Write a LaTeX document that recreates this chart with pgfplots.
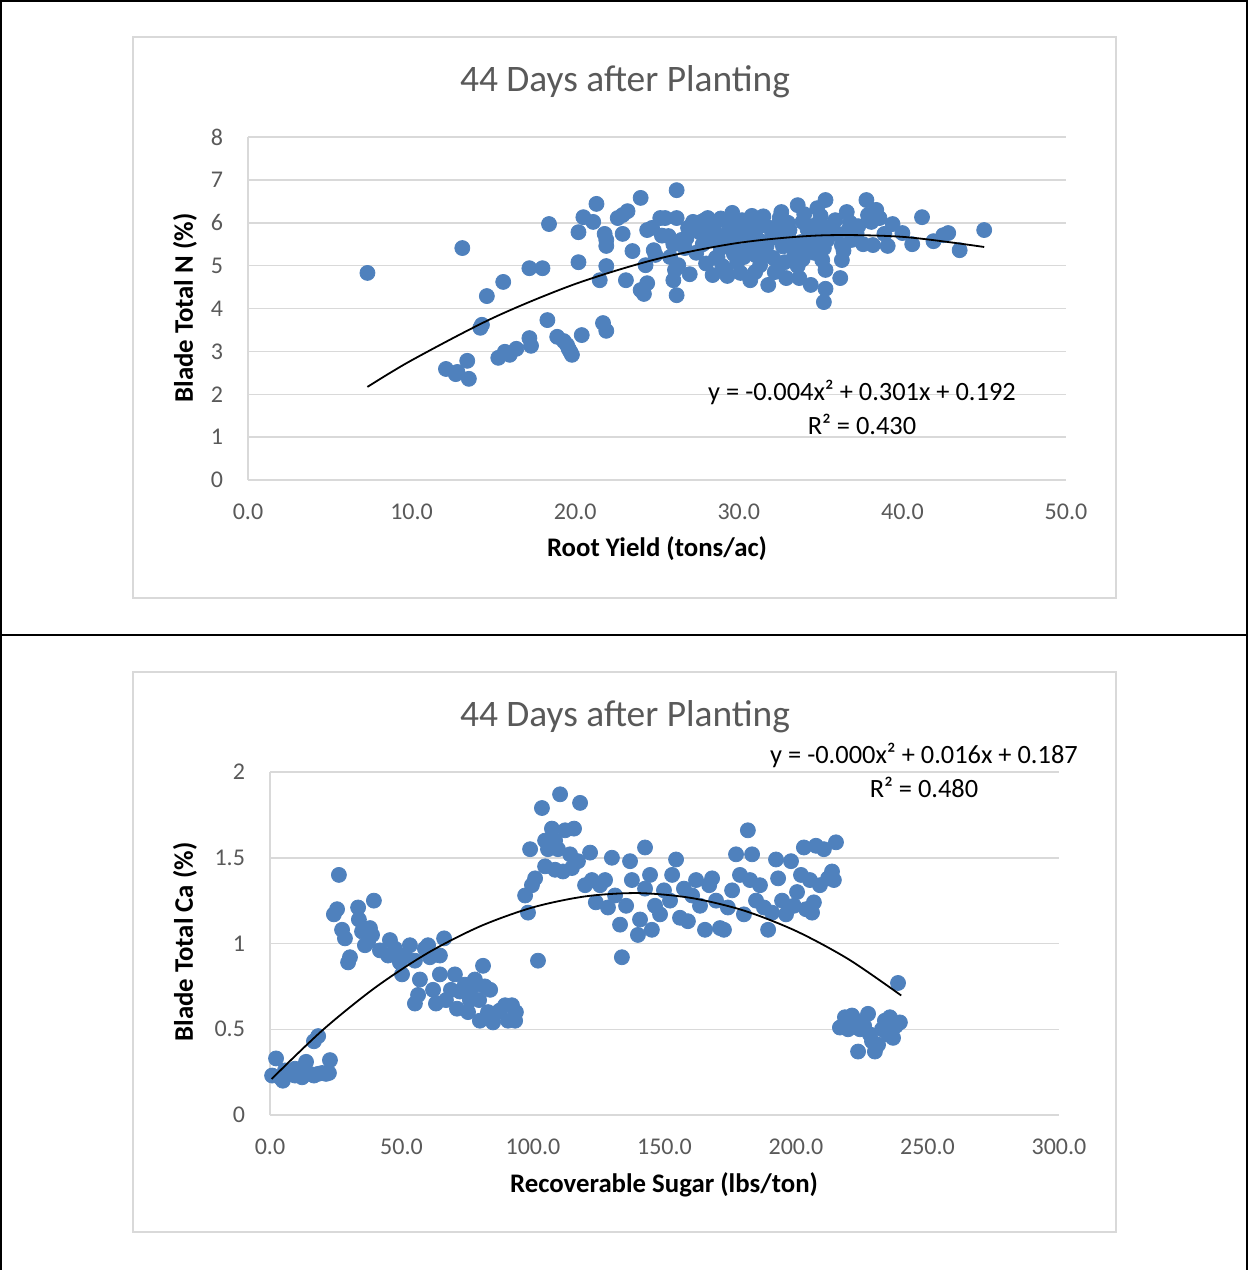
\documentclass[border=0pt]{standalone}
\usepackage{fontspec}
\setmainfont{Carlito}
\usepackage{pgfplots}
\pgfplotsset{compat=1.18}
\definecolor{ptblue}{HTML}{4F81BD}
\definecolor{tickgrey}{HTML}{595959}
\definecolor{gridgrey}{HTML}{D9D9D9}
\pgfplotsset{excel/.style={
  scale only axis,
  set layers,
  axis x line*=bottom, axis y line*=left,
  axis line style={gridgrey, line width=0.75pt},
  ymajorgrids, grid style={gridgrey, line width=0.75pt},
  major tick length=0pt,
  tick label style={font=\fontsize{12}{14}\selectfont, text=tickgrey},
  /pgf/number format/assume math mode=true,
  xticklabel style={yshift=-8.5pt},
  yticklabel style={xshift=-9pt},
  xticklabel={\pgfmathprintnumber[fixed,fixed zerofill,precision=1]{\tick}},
  clip=false,
}}
\begin{document}
\begin{tikzpicture}
\begin{scope}[x=0.5pt,y=-0.5pt]
\path[use as bounding box] (0,0) rectangle (1249,1270);
% outer frames
\draw[black, line width=1pt] (1,1270) -- (1,1) -- (1247,1) -- (1247,1270);
\draw[black, line width=1pt] (1,635) -- (1247,635);
% chart areas
\draw[gridgrey, line width=0.75pt] (133,37) rectangle (1116,598);
\draw[gridgrey, line width=0.75pt] (133,672) rectangle (1116,1232);
\end{scope}

% ---------------- top chart ----------------
\begin{axis}[excel,
  at={(124pt,-240pt)}, anchor=south west,
  width=409pt, height=171.5pt,
  xmin=0, xmax=50, ymin=0, ymax=8,
  xtick={0,10,20,30,40,50}, ytick={0,1,2,3,4,5,6,7,8},
]
\addplot[only marks, color=ptblue, mark=*, mark size=3.75pt, mark options={draw=ptblue, fill=ptblue}] table {
x y
7.3 4.83
13.1 5.41
12.1 2.59
12.8 2.52
13.4 2.78
13.5 2.36
12.7 2.47
14.3 3.62
14.2 3.55
14.6 4.29
15.6 4.62
15.3 2.85
15.7 2.99
16.0 2.92
16.4 3.06
17.2 3.31
17.3 3.13
17.2 4.94
18.0 4.94
18.3 3.73
18.4 5.97
18.9 3.34
19.3 3.24
19.5 3.15
19.7 2.99
19.8 2.92
19.6 3.06
20.4 3.38
20.2 5.08
20.2 5.78
20.5 6.13
21.1 6.02
21.3 6.44
21.5 4.66
21.7 3.66
21.9 3.48
21.9 4.99
21.8 5.74
21.9 5.60
21.9 5.46
22.6 6.11
22.9 6.18
23.2 6.27
22.9 5.74
23.1 4.66
23.5 5.34
24.0 6.58
24.0 4.43
24.2 4.34
24.3 5.01
24.4 4.59
24.4 5.83
24.8 5.36
24.7 5.88
25.2 6.11
25.5 6.11
25.7 5.69
25.8 5.20
26.2 6.76
26.2 6.11
26.0 4.66
26.1 4.90
26.2 4.31
26.3 5.01
26.7 5.41
26.8 5.64
27.0 4.80
26.9 5.88
27.2 6.02
27.6 5.78
27.9 6.06
28.1 6.11
28.2 5.60
28.4 4.78
28.5 5.95
28.6 5.18
28.9 5.41
29.0 4.99
29.2 6.06
29.3 4.76
29.5 5.60
29.6 6.23
29.7 5.27
29.9 5.08
30.0 5.71
30.1 4.83
30.2 6.06
30.4 5.88
30.6 5.41
30.7 4.66
30.8 6.16
31.0 5.25
31.2 5.60
31.3 5.01
31.4 6.02
31.7 5.46
31.8 4.55
31.9 5.88
32.1 5.18
32.2 4.85
32.4 5.64
32.5 6.11
32.6 6.25
32.8 5.08
32.9 4.71
33.1 5.83
33.3 5.46
33.6 6.41
33.6 4.99
33.7 4.71
33.9 6.02
34.1 5.36
34.4 4.55
34.5 5.60
34.7 5.95
34.8 6.34
35.0 6.16
35.1 5.13
35.2 5.41
35.3 4.90
35.3 6.53
35.3 4.46
35.2 4.15
35.4 5.60
35.6 5.78
35.9 6.06
36.2 4.71
36.3 5.13
36.3 5.48
36.6 6.25
36.7 5.83
36.9 5.60
37.3 5.92
37.6 5.50
37.8 6.53
37.9 6.18
38.1 6.02
38.2 5.48
38.4 6.30
38.6 6.11
38.9 5.74
39.1 5.46
39.4 5.97
40.0 5.76
40.6 5.50
41.2 6.13
41.9 5.57
42.5 5.71
42.8 5.76
43.5 5.36
45.0 5.83
26.5 5.60
27.0 5.90
27.4 5.30
27.8 5.50
28.3 5.80
28.7 5.20
29.0 5.70
29.4 5.95
29.8 5.40
30.3 5.20
30.5 5.75
30.9 5.50
31.2 5.90
31.6 5.30
32.0 5.65
32.3 5.90
32.7 5.45
33.0 5.70
33.4 5.25
33.8 5.55
34.2 5.85
34.6 5.30
35.0 5.70
35.5 5.90
36.0 5.75
36.4 5.35
36.8 6.00
37.2 5.75
27.7 6.02
28.9 6.10
30.0 5.90
31.5 6.15
33.0 6.00
34.0 6.20
26.0 5.50
25.3 5.70
24.9 5.25
29.2 4.90
31.0 4.85
33.9 5.15
32.4 4.95
28.0 5.05
};
\addplot[black, line width=0.9pt, smooth, on layer=axis foreground] coordinates {
(7.3,2.171) (10,2.792) (15,3.785) (20,4.572) (25,5.155) (30,5.532) (35,5.705) (40,5.672) (45,5.435)
};
\end{axis}

% ---------------- bottom chart ----------------
\begin{axis}[excel,
  at={(135pt,-557.5pt)}, anchor=south west,
  width=394.5pt, height=171.5pt,
  xmin=0, xmax=300, ymin=0, ymax=2,
  xtick={0,50,100,150,200,250,300}, ytick={0,0.5,1,1.5,2},
]
\addplot[only marks, color=ptblue, mark=*, mark size=3.75pt, mark options={draw=ptblue, fill=ptblue}] table {
x y
0.8 0.23
2.3 0.33
3.8 0.22
4.9 0.20
5.7 0.26
7.6 0.24
9.5 0.23
9.5 0.27
11.4 0.24
12.2 0.22
13.7 0.31
15.2 0.24
16.7 0.23
18.3 0.24
19.8 0.245
21.3 0.24
22.8 0.32
22.4 0.245
16.7 0.43
18.3 0.46
26.2 1.40
24.3 1.17
25.5 1.20
27.4 1.08
28.5 1.03
29.7 0.89
30.4 0.92
33.5 1.21
33.8 1.14
35.0 1.07
37.3 1.01
38.0 1.09
39.5 1.25
38.8 1.05
36.1 0.99
41.8 0.96
44.9 0.93
45.6 1.02
47.5 0.97
49.4 0.89
50.2 0.82
51.3 0.93
53.2 0.99
55.1 0.90
56.3 0.70
55.1 0.65
57.0 0.79
58.9 0.97
60.1 0.99
60.8 0.92
62.0 0.73
63.1 0.65
64.6 0.82
66.2 1.03
64.6 0.93
66.9 0.67
68.8 0.73
70.3 0.82
71.1 0.62
72.2 0.72
74.1 0.76
75.3 0.60
76.8 0.74
77.9 0.79
79.5 0.67
81.0 0.87
81.7 0.75
82.9 0.60
84.8 0.54
86.7 0.60
87.5 0.61
89.4 0.64
90.5 0.55
93.2 0.55
93.5 0.60
92.0 0.64
79.8 0.55
83.7 0.73
76.0 0.67
98.9 1.55
97.0 1.28
98.1 1.18
99.6 1.34
100.8 1.38
101.9 0.90
103.4 1.79
104.6 1.60
105.7 1.55
107.2 1.67
108.4 1.60
110.3 1.87
109.5 1.55
112.2 1.66
114.1 1.52
115.6 1.67
117.9 1.82
114.8 1.44
117.1 1.48
119.8 1.34
121.7 1.53
122.4 1.37
123.9 1.24
125.5 1.34
127.4 1.37
128.5 1.21
130.0 1.50
131.2 1.28
133.1 1.11
133.8 0.92
135.4 1.22
136.9 1.48
137.6 1.37
139.9 1.05
140.7 1.14
142.6 1.56
142.6 1.32
144.5 1.40
145.2 1.08
146.4 1.22
148.3 1.17
149.8 1.31
152.1 1.25
152.9 1.40
154.4 1.49
155.9 1.15
157.4 1.32
158.9 1.13
160.5 1.28
162.0 1.37
163.5 1.22
165.4 1.08
167.0 1.34
168.1 1.38
169.6 1.25
171.1 1.09
172.6 1.08
174.1 1.21
175.7 1.31
177.2 1.52
178.7 1.40
180.2 1.17
181.7 1.66
182.5 1.37
183.3 1.52
184.8 1.25
186.3 1.34
187.8 1.21
189.4 1.08
190.9 1.18
192.4 1.49
193.2 1.38
194.7 1.25
196.2 1.17
198.1 1.48
199.2 1.22
200.4 1.30
201.9 1.40
203.0 1.56
203.8 1.20
205.3 1.37
206.8 1.24
207.6 1.57
209.1 1.34
210.6 1.55
212.2 1.38
213.7 1.42
215.2 1.59
214.4 1.37
206.1 1.18
108.4 1.43
111.4 1.42
104.6 1.45
216.7 0.51
218.6 0.57
221.3 0.58
222.8 0.55
223.6 0.37
224.3 0.50
225.9 0.52
227.4 0.59
228.1 0.47
228.9 0.43
230.0 0.37
231.2 0.41
232.7 0.50
233.8 0.55
235.0 0.47
235.7 0.57
236.9 0.45
238.0 0.52
238.8 0.77
239.5 0.54
219.8 0.50
};
\addplot[black, line width=0.9pt, smooth, on layer=axis foreground] coordinates {
(0.6,0.210) (20,0.495) (40,0.743) (60,0.945) (80,1.101) (100,1.211) (120,1.275) (140,1.294) (160,1.266) (180,1.193) (200,1.073) (220,0.908) (240,0.697)
};
\end{axis}

% texts drawn last, over gridlines
\begin{scope}[x=0.5pt,y=-0.5pt]
\node[text=tickgrey, font=\fontsize{18.7}{22}\selectfont] at (625,82) {44 Days after Planting};
\node[text=tickgrey, font=\fontsize{18.7}{22}\selectfont] at (625,717) {44 Days after Planting};
\node[font=\bfseries\fontsize{13.4}{16}\selectfont, rotate=90] at (185,308) {Blade Total N (\%)};
\node[font=\bfseries\fontsize{13.4}{16}\selectfont] at (657,549) {Root Yield (tons/ac)};
\node[font=\bfseries\fontsize{13.4}{16}\selectfont, rotate=90] at (185,942) {Blade Total Ca (\%)};
\node[font=\bfseries\fontsize{13.4}{16}\selectfont] at (664,1185) {Recoverable Sugar (lbs/ton)};
\node[font=\fontsize{13.2}{15}\selectfont] at (862,392) {y = -0.004x² + 0.301x + 0.192};
\node[font=\fontsize{13.2}{15}\selectfont] at (862,424) {R² = 0.430};
\node[font=\fontsize{13.2}{15}\selectfont] at (924,755) {y = -0.000x² + 0.016x + 0.187};
\node[font=\fontsize{13.2}{15}\selectfont] at (924,787) {R² = 0.480};
\end{scope}
\end{tikzpicture}
\end{document}
